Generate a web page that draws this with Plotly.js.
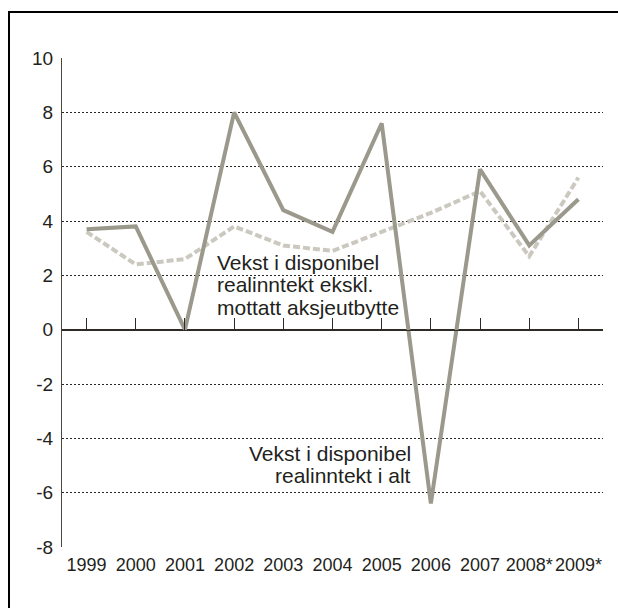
<!DOCTYPE html>
<html>
<head>
<meta charset="utf-8">
<script src="https://cdn.plot.ly/plotly-3.0.1.min.js"></script>
<style>
  html, body { margin: 0; padding: 0; background: #fff; }
  #wrap { position: relative; width: 618px; height: 608px; overflow: hidden; }
  #chart { position: absolute; left: 0; top: 0; width: 618px; height: 608px; }
  #frame { position: absolute; left: 8px; top: 11px; width: 700px; height: 700px;
           border-top: 2px solid #000; border-left: 2px solid #000; pointer-events: none; }
</style>
</head>
<body>
<div id="wrap">
  <div id="chart"></div>
  <div id="frame"></div>
</div>
<script>
const years = ["1999","2000","2001","2002","2003","2004","2005","2006","2007","2008*","2009*"];
const totalGrowth = [3.7, 3.8, 0.0, 8.0, 4.4, 3.6, 7.6, -6.4, 5.9, 3.1, 4.8];
const exDividendGrowth = [3.6, 2.4, 2.6, 3.8, 3.1, 2.9, 3.6, 4.3, 5.1, 2.7, 5.6];
const yTicks = [-8, -6, -4, -2, 0, 2, 4, 6, 8, 10];
const labelExDividendLines = ["Vekst i disponibel", "realinntekt ekskl.", "mottatt aksjeutbytte"];
const labelTotalLines = ["Vekst i disponibel", "realinntekt i alt"];

const textColor = "#231f20";
const family = "Liberation Sans, Arial, sans-serif";
const tickFont = { family: family, size: 18, color: textColor };
const yTickFont = { family: family, size: 19, color: textColor };
const noteFont = { family: family, size: 21, color: textColor };

const traces = [
  { type: "scatter", mode: "lines", x: years, y: exDividendGrowth, xaxis: "x", yaxis: "y",
    line: { color: "#cbc9bf", width: 4, dash: "7px,3px" }, hoverinfo: "skip" },
  { type: "scatter", mode: "lines", x: years, y: totalGrowth, xaxis: "x2", yaxis: "y",
    line: { color: "#9b988c", width: 4 }, hoverinfo: "skip" }
];

// annotation anchor positions (category index / value units), one per text line
const note1X = 2.64, note1Y = [2.47, 1.65, 0.83];
const note2X = 6.62, note2Y = [-4.54, -5.36];

const annotations = [];
labelExDividendLines.forEach((t, i) => annotations.push({
  x: note1X, y: note1Y[i], xref: "x", yref: "y", text: t, showarrow: false,
  xanchor: "left", yanchor: "middle", align: "left", font: noteFont, borderpad: 0
}));
labelTotalLines.forEach((t, i) => annotations.push({
  x: note2X, y: note2Y[i], xref: "x", yref: "y", text: t, showarrow: false,
  xanchor: "right", yanchor: "middle", align: "right", font: noteFont, borderpad: 0
}));

const layout = {
  width: 618, height: 608,
  margin: { l: 62, r: 15, t: 58, b: 61 },
  paper_bgcolor: "#fff", plot_bgcolor: "#fff",
  showlegend: false,
  font: tickFont,
  xaxis: {
    type: "category", categoryorder: "array", categoryarray: years,
    range: [-0.5, 10.5], showgrid: false, zeroline: false, showline: false,
    ticks: "", tickangle: 0, tickfont: tickFont, ticklabelstandoff: 5, fixedrange: true
  },
  xaxis2: {
    type: "category", categoryorder: "array", categoryarray: years,
    range: [-0.5, 10.5], overlaying: "x", anchor: "free", position: 8 / 18,
    side: "bottom", showgrid: false, zeroline: false, showline: true,
    linecolor: "#2e2a26", linewidth: 1,
    ticks: "inside", ticklen: 12, tickwidth: 1, tickcolor: "#2e2a26",
    showticklabels: false, fixedrange: true
  },
  yaxis: {
    range: [-8, 10], tickvals: yTicks, ticktext: yTicks.map(String),
    showgrid: true, gridcolor: "#2a2622", gridwidth: 1, griddash: "2px,2px",
    zeroline: true, zerolinecolor: "#2e2a26", zerolinewidth: 1,
    showline: true, linecolor: "#4a463f", linewidth: 1,
    ticks: "", tickfont: yTickFont, ticklabelstandoff: 4, fixedrange: true
  },
  annotations: annotations
};

Plotly.newPlot("chart", traces, layout, { displayModeBar: false, staticPlot: true });
</script>
</body>
</html>
